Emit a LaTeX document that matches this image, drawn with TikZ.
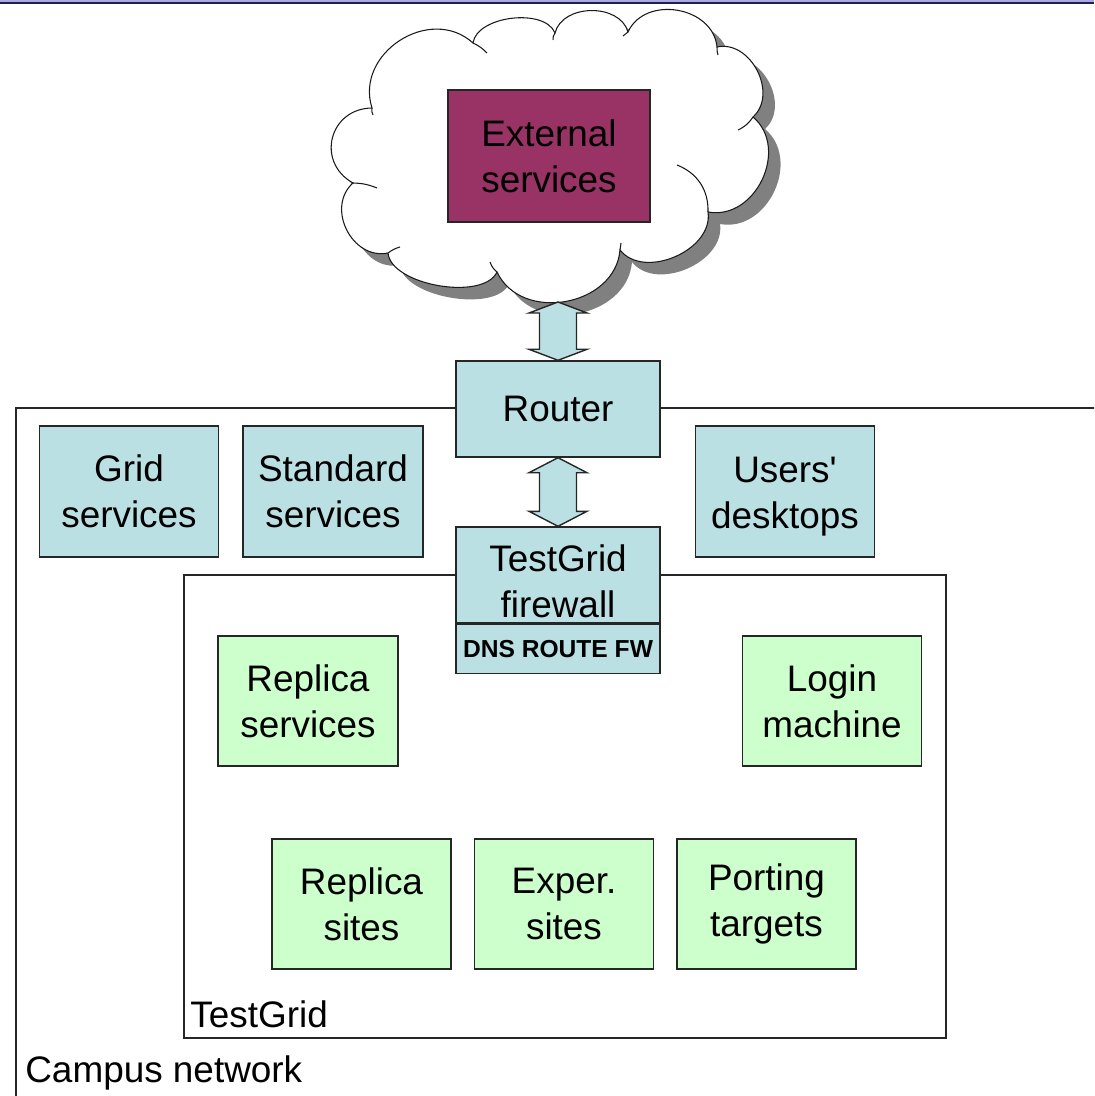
\documentclass[tikz,border=0pt]{standalone}
\usepackage{fontspec}
\setmainfont{Liberation Sans}
\usepackage{xcolor}
\usetikzlibrary{arrows.meta}
\usetikzlibrary{positioning}
\usetikzlibrary{shadows}
\usetikzlibrary{calc}

\definecolor{azulcaja}{HTML}{BBE0E3}
\definecolor{verdecaja}{HTML}{CCFFCC}
\definecolor{moradocaja}{HTML}{993366}
\definecolor{franja}{HTML}{A9A9E6}
\definecolor{lineafranja}{HTML}{202050}

\begin{document}
\begin{tikzpicture}[
    box/.style={rectangle, draw=black!85, line width=0.8pt, minimum width=3.58cm, minimum height=2.62cm, align=center, inner sep=1pt, font=\fontsize{21}{26}\selectfont},
    bluebox/.style={box, fill=azulcaja},
    greenbox/.style={box, fill=verdecaja},
    area/.style={draw=black!85, line width=0.8pt},
    areatext/.style={anchor=west, inner sep=0pt, font=\fontsize{21}{26}\selectfont},
    dblarrow/.style={draw=black!85, line width=0.8pt, fill=azulcaja},
    cloudline/.style={draw=black!90, line width=0.6pt}
]
\useasboundingbox (0,0) rectangle (21.88,-21.92);
\clip (0,0) rectangle (21.88,-21.92);

% Franja superior
\fill[franja] (0,0) rectangle (21.88,-0.05);
\draw[lineafranja, line width=0.9pt] (0,-0.06) -- (21.88,-0.06);

% Redes (campus y TestGrid)
\draw[area] (0.32,-8.16) rectangle (22.5,-22.5);
\draw[area] (3.68,-11.5) rectangle (18.92,-20.76);
\node[areatext] (tglabel) at (3.8,-20.28) {TestGrid};
\node[areatext] (campuslabel) at (0.5,-21.46) {Campus network};

% Nube
\filldraw[cloudline, fill=white, drop shadow={shadow xshift=0.24cm, shadow yshift=-0.24cm, fill=black!50, opacity=1}]
    (7.44,-2.16) to[bend left=75, looseness=1.23] (9.46,-0.86)
    to[bend left=75, looseness=0.85] (11.10,-0.66)
    to[bend left=75, looseness=1.06] (12.56,-0.64)
    to[bend left=75, looseness=1.16] (14.34,-0.94)
    to[bend left=75, looseness=1.12] (15.06,-2.34)
    to[bend left=75, looseness=1.18] (14.16,-4.24)
    to[bend left=75, looseness=1.03] (12.40,-5.00)
    to[bend left=75, looseness=1.16] (9.94,-5.44)
    to[bend left=75, looseness=0.75] (7.76,-5.06)
    to[bend left=75, looseness=1.2] (7.06,-3.66)
    to[bend left=75, looseness=1.42] cycle;
% Trazos interiores de la nube
\draw[cloudline] (7.44,-2.16) to[bend right=20] (7.46,-2.30);
\draw[cloudline] (9.46,-0.86) to[bend left=10] (9.74,-1.06);
\draw[cloudline] (11.10,-0.66) to[bend right=20] (11.06,-0.80);
\draw[cloudline] (12.56,-0.64) to[bend right=10] (12.46,-0.72);
\draw[cloudline] (14.34,-0.94) to[bend right=10] (14.36,-1.10);
\draw[cloudline] (15.06,-2.34) to[bend left=15] (14.76,-2.60);
\draw[cloudline] (14.16,-4.24) to[bend right=35] (13.54,-3.30);
\draw[cloudline] (12.40,-5.00) to[bend left=10] (12.42,-4.86);
\draw[cloudline] (9.94,-5.44) to[bend left=15] (9.80,-5.24);
\draw[cloudline] (7.76,-5.06) to[bend left=10] (8.00,-4.94);
\draw[cloudline] (7.06,-3.66) to[bend left=10] (7.54,-3.76);

% Servicios externos
\node[box, fill=moradocaja, minimum width=4.04cm, minimum height=2.64cm] (ext) at (10.98,-3.12) {External\\services};

% Router y firewall
\node[bluebox, minimum width=4.08cm, minimum height=1.92cm] (router) at (11.16,-8.18) {Router};
\node[bluebox, minimum width=4.08cm, minimum height=1.92cm] (fw) at (11.16,-11.5) {\rule{0pt}{0.8cm}TestGrid\\firewall};
\node[bluebox, minimum width=4.08cm, minimum height=0.98cm, font=\bfseries\fontsize{14}{16}\selectfont, below=0pt of fw] (dns) {DNS ROUTE FW};

% Servicios del campus
\node[bluebox] (grid) at (2.58,-9.83) {Grid\\services};
\node[bluebox, minimum width=3.6cm] (std) at (6.66,-9.83) {Standard\\services};
\node[bluebox] (users) at (15.7,-9.83) {\rule{0pt}{0.72cm}Users\textquotesingle\\desktops};

% Maquinas de TestGrid
\node[greenbox, minimum width=3.6cm, minimum height=2.6cm] (repsvc) at (6.16,-14.02) {Replica\\services};
\node[greenbox, minimum height=2.6cm] (login) at (16.64,-14.02) {Login\\machine};
\node[greenbox, minimum height=2.6cm] (repsites) at (7.23,-18.08) {Replica\\sites};
\node[greenbox, minimum height=2.6cm] (exper) at (11.28,-18.08) {Exper.\\sites};
\node[greenbox, minimum height=2.6cm] (porting) at (15.33,-18.08) {Porting\\targets};

% Flechas dobles
\coordinate (cloudfoot) at (11.16,-6.04);
\draw[dblarrow] (cloudfoot) -- ++(0.58,-0.22) -- ++(-0.21,0) -- ($(router.north)+(0.37,0.22)$) -- ++(0.21,0) -- (router.north)
    -- ++(-0.58,0.22) -- ++(0.21,0) -- ($(cloudfoot)+(-0.37,-0.22)$) -- ++(-0.21,0) -- cycle;
\draw[dblarrow] (router.south) -- ++(0.58,-0.3) -- ++(-0.21,0) -- ($(fw.north)+(0.37,0.3)$) -- ++(0.21,0) -- (fw.north)
    -- ++(-0.58,0.3) -- ++(0.21,0) -- ($(router.south)+(-0.37,-0.3)$) -- ++(-0.21,0) -- cycle;

\end{tikzpicture}
\end{document}
